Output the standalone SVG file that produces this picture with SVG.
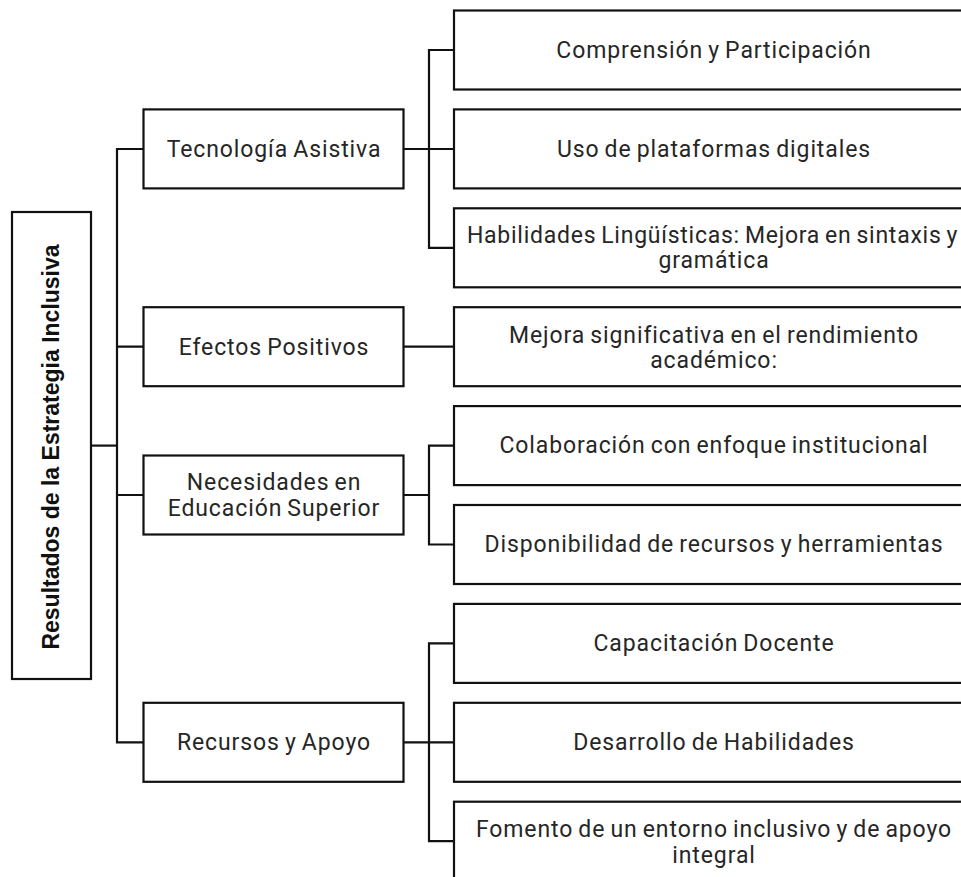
<svg xmlns="http://www.w3.org/2000/svg" width="961" height="877" viewBox="0 0 961 877">
<style>
.box{fill:#fff;stroke:#111;stroke-width:2.2}
.t{font-family:Roboto,"Liberation Sans",sans-serif;font-size:23px;letter-spacing:0.9px;word-spacing:-1.5px;fill:#262626;text-anchor:middle}
.root{font-family:"Liberation Sans",Arial,sans-serif;font-size:23px;font-weight:bold;fill:#111;text-anchor:middle}
.c{fill:none;stroke:#111;stroke-width:2.2;stroke-linejoin:miter}
</style>
<rect width="961" height="877" fill="#fff"/>
<g id="connectors">
<path class="c" d="M91 445.6 H117"/>
<path class="c" d="M143.5 149 H117 V742.3 H143.5 M117 346.7 H143.5 M117 495 H143.5"/>
<path class="c" d="M403.5 149 H454 M454 50 H429 V247.8 H454"/>
<path class="c" d="M403.5 346.7 H454"/>
<path class="c" d="M403.5 495 H429 M454 445.6 H429 V544.5 H454"/>
<path class="c" d="M403.5 742.3 H454 M454 643.4 H429 V841.2 H454"/>
</g>
<g id="root">
<rect class="box" x="12" y="212" width="79" height="467"/>
<text class="root" transform="translate(58.5,447) rotate(-90)">Resultados de la Estrategia Inclusiva</text>
</g>
<g id="tecnologia">
<rect class="box" x="143.5" y="109.4" width="260" height="79"/>
<text class="t" x="274" y="157">Tecnología Asistiva</text>
</g>
<g id="efectos">
<rect class="box" x="143.5" y="307.2" width="260" height="79"/>
<text class="t" x="274" y="355">Efectos Positivos</text>
</g>
<g id="necesidades">
<rect class="box" x="143.5" y="455.5" width="260" height="79"/>
<text class="t" x="274" y="489.5">Necesidades en</text>
<text class="t" x="274" y="515.5">Educación Superior</text>
</g>
<g id="recursos">
<rect class="box" x="143.5" y="702.8" width="260" height="79"/>
<text class="t" x="274" y="750">Recursos y Apoyo</text>
</g>
<g id="comprension">
<rect class="box" x="454" y="10.5" width="520" height="79"/>
<text class="t" x="714" y="57.5">Comprensión y Participación</text>
</g>
<g id="uso">
<rect class="box" x="454" y="109.4" width="520" height="79"/>
<text class="t" x="714" y="157">Uso de plataformas digitales</text>
</g>
<g id="habilidades">
<rect class="box" x="454" y="208.3" width="520" height="79"/>
<text class="t" x="712.5" y="242.5" style="letter-spacing:0.75px">Habilidades Lingüísticas: Mejora en sintaxis y</text>
<text class="t" x="714" y="268">gramática</text>
</g>
<g id="mejora">
<rect class="box" x="454" y="307.2" width="520" height="79"/>
<text class="t" x="714" y="342.5">Mejora significativa en el rendimiento</text>
<text class="t" x="714" y="368">académico:</text>
</g>
<g id="colaboracion">
<rect class="box" x="454" y="406.1" width="520" height="79"/>
<text class="t" x="714" y="453">Colaboración con enfoque institucional</text>
</g>
<g id="disponibilidad">
<rect class="box" x="454" y="505" width="520" height="79"/>
<text class="t" x="714" y="552">Disponibilidad de recursos y herramientas</text>
</g>
<g id="capacitacion">
<rect class="box" x="454" y="603.9" width="520" height="79"/>
<text class="t" x="714" y="651">Capacitación Docente</text>
</g>
<g id="desarrollo">
<rect class="box" x="454" y="702.8" width="520" height="79"/>
<text class="t" x="714" y="750">Desarrollo de Habilidades</text>
</g>
<g id="fomento">
<rect class="box" x="454" y="801.7" width="520" height="79"/>
<text class="t" x="714" y="836.7">Fomento de un entorno inclusivo y de apoyo</text>
<text class="t" x="714" y="862.5">integral</text>
</g>
</svg>
